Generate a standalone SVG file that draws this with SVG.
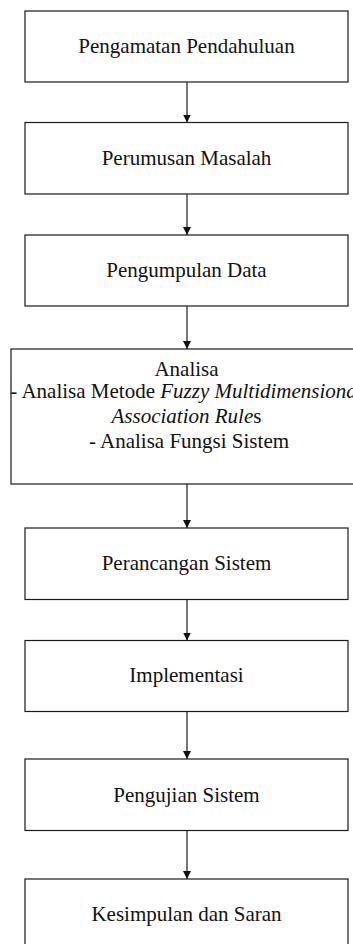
<svg xmlns="http://www.w3.org/2000/svg" width="353" height="944" viewBox="0 0 353 944">
<style>
.box{fill:#fff;stroke:#1a1a1a;stroke-width:1.2}
.t{font-family:"Liberation Serif","Times New Roman",serif;font-size:21px;fill:#111;text-anchor:middle}
.i{font-style:italic}
.c{stroke:#1a1a1a;stroke-width:1.2;fill:none;marker-end:url(#ah)}
</style>
<defs>
<marker id="ah" markerUnits="userSpaceOnUse" markerWidth="9" markerHeight="9" refX="8" refY="4" orient="auto">
<path d="M0,0 L8,4 L0,8 z" fill="#111"/>
</marker>
</defs>
<rect width="353" height="944" fill="#fff"/>
<g id="connectors">
<line class="c" x1="187" y1="82" x2="187" y2="122.5"/>
<line class="c" x1="187" y1="194" x2="187" y2="235"/>
<line class="c" x1="187" y1="306" x2="187" y2="349"/>
<line class="c" x1="187" y1="484" x2="187" y2="528"/>
<line class="c" x1="187" y1="599.5" x2="187" y2="640.5"/>
<line class="c" x1="187" y1="711.5" x2="187" y2="759"/>
<line class="c" x1="187" y1="830.5" x2="187" y2="879"/>
</g>
<g id="n1"><rect class="box" x="25" y="11" width="323" height="71"/><text class="t" x="186.5" y="53">Pengamatan Pendahuluan</text></g>
<g id="n2"><rect class="box" x="25" y="122.5" width="323" height="71.5"/><text class="t" x="186.5" y="165">Perumusan Masalah</text></g>
<g id="n3"><rect class="box" x="25" y="235" width="323" height="71"/><text class="t" x="186.5" y="277">Pengumpulan Data</text></g>
<g id="n4"><rect class="box" x="11" y="349" width="355" height="135"/>
<text class="t" x="186.5" y="375.5">Analisa</text>
<text class="t" x="186.5" y="398">- Analisa Metode <tspan class="i">Fuzzy Multidimensional</tspan></text>
<text class="t" x="186.5" y="423"><tspan class="i">Association Rule</tspan>s</text>
<text class="t" x="189" y="448">- Analisa Fungsi Sistem</text>
</g>
<g id="n5"><rect class="box" x="25" y="528" width="323" height="71.5"/><text class="t" x="186.5" y="570">Perancangan Sistem</text></g>
<g id="n6"><rect class="box" x="25" y="640.5" width="323" height="71"/><text class="t" x="186.5" y="682">Implementasi</text></g>
<g id="n7"><rect class="box" x="25" y="759" width="323" height="71.5"/><text class="t" x="186.5" y="801.5">Pengujian Sistem</text></g>
<g id="n8"><rect class="box" x="25" y="879" width="323" height="75"/><text class="t" x="186.5" y="921">Kesimpulan dan Saran</text></g>
</svg>
